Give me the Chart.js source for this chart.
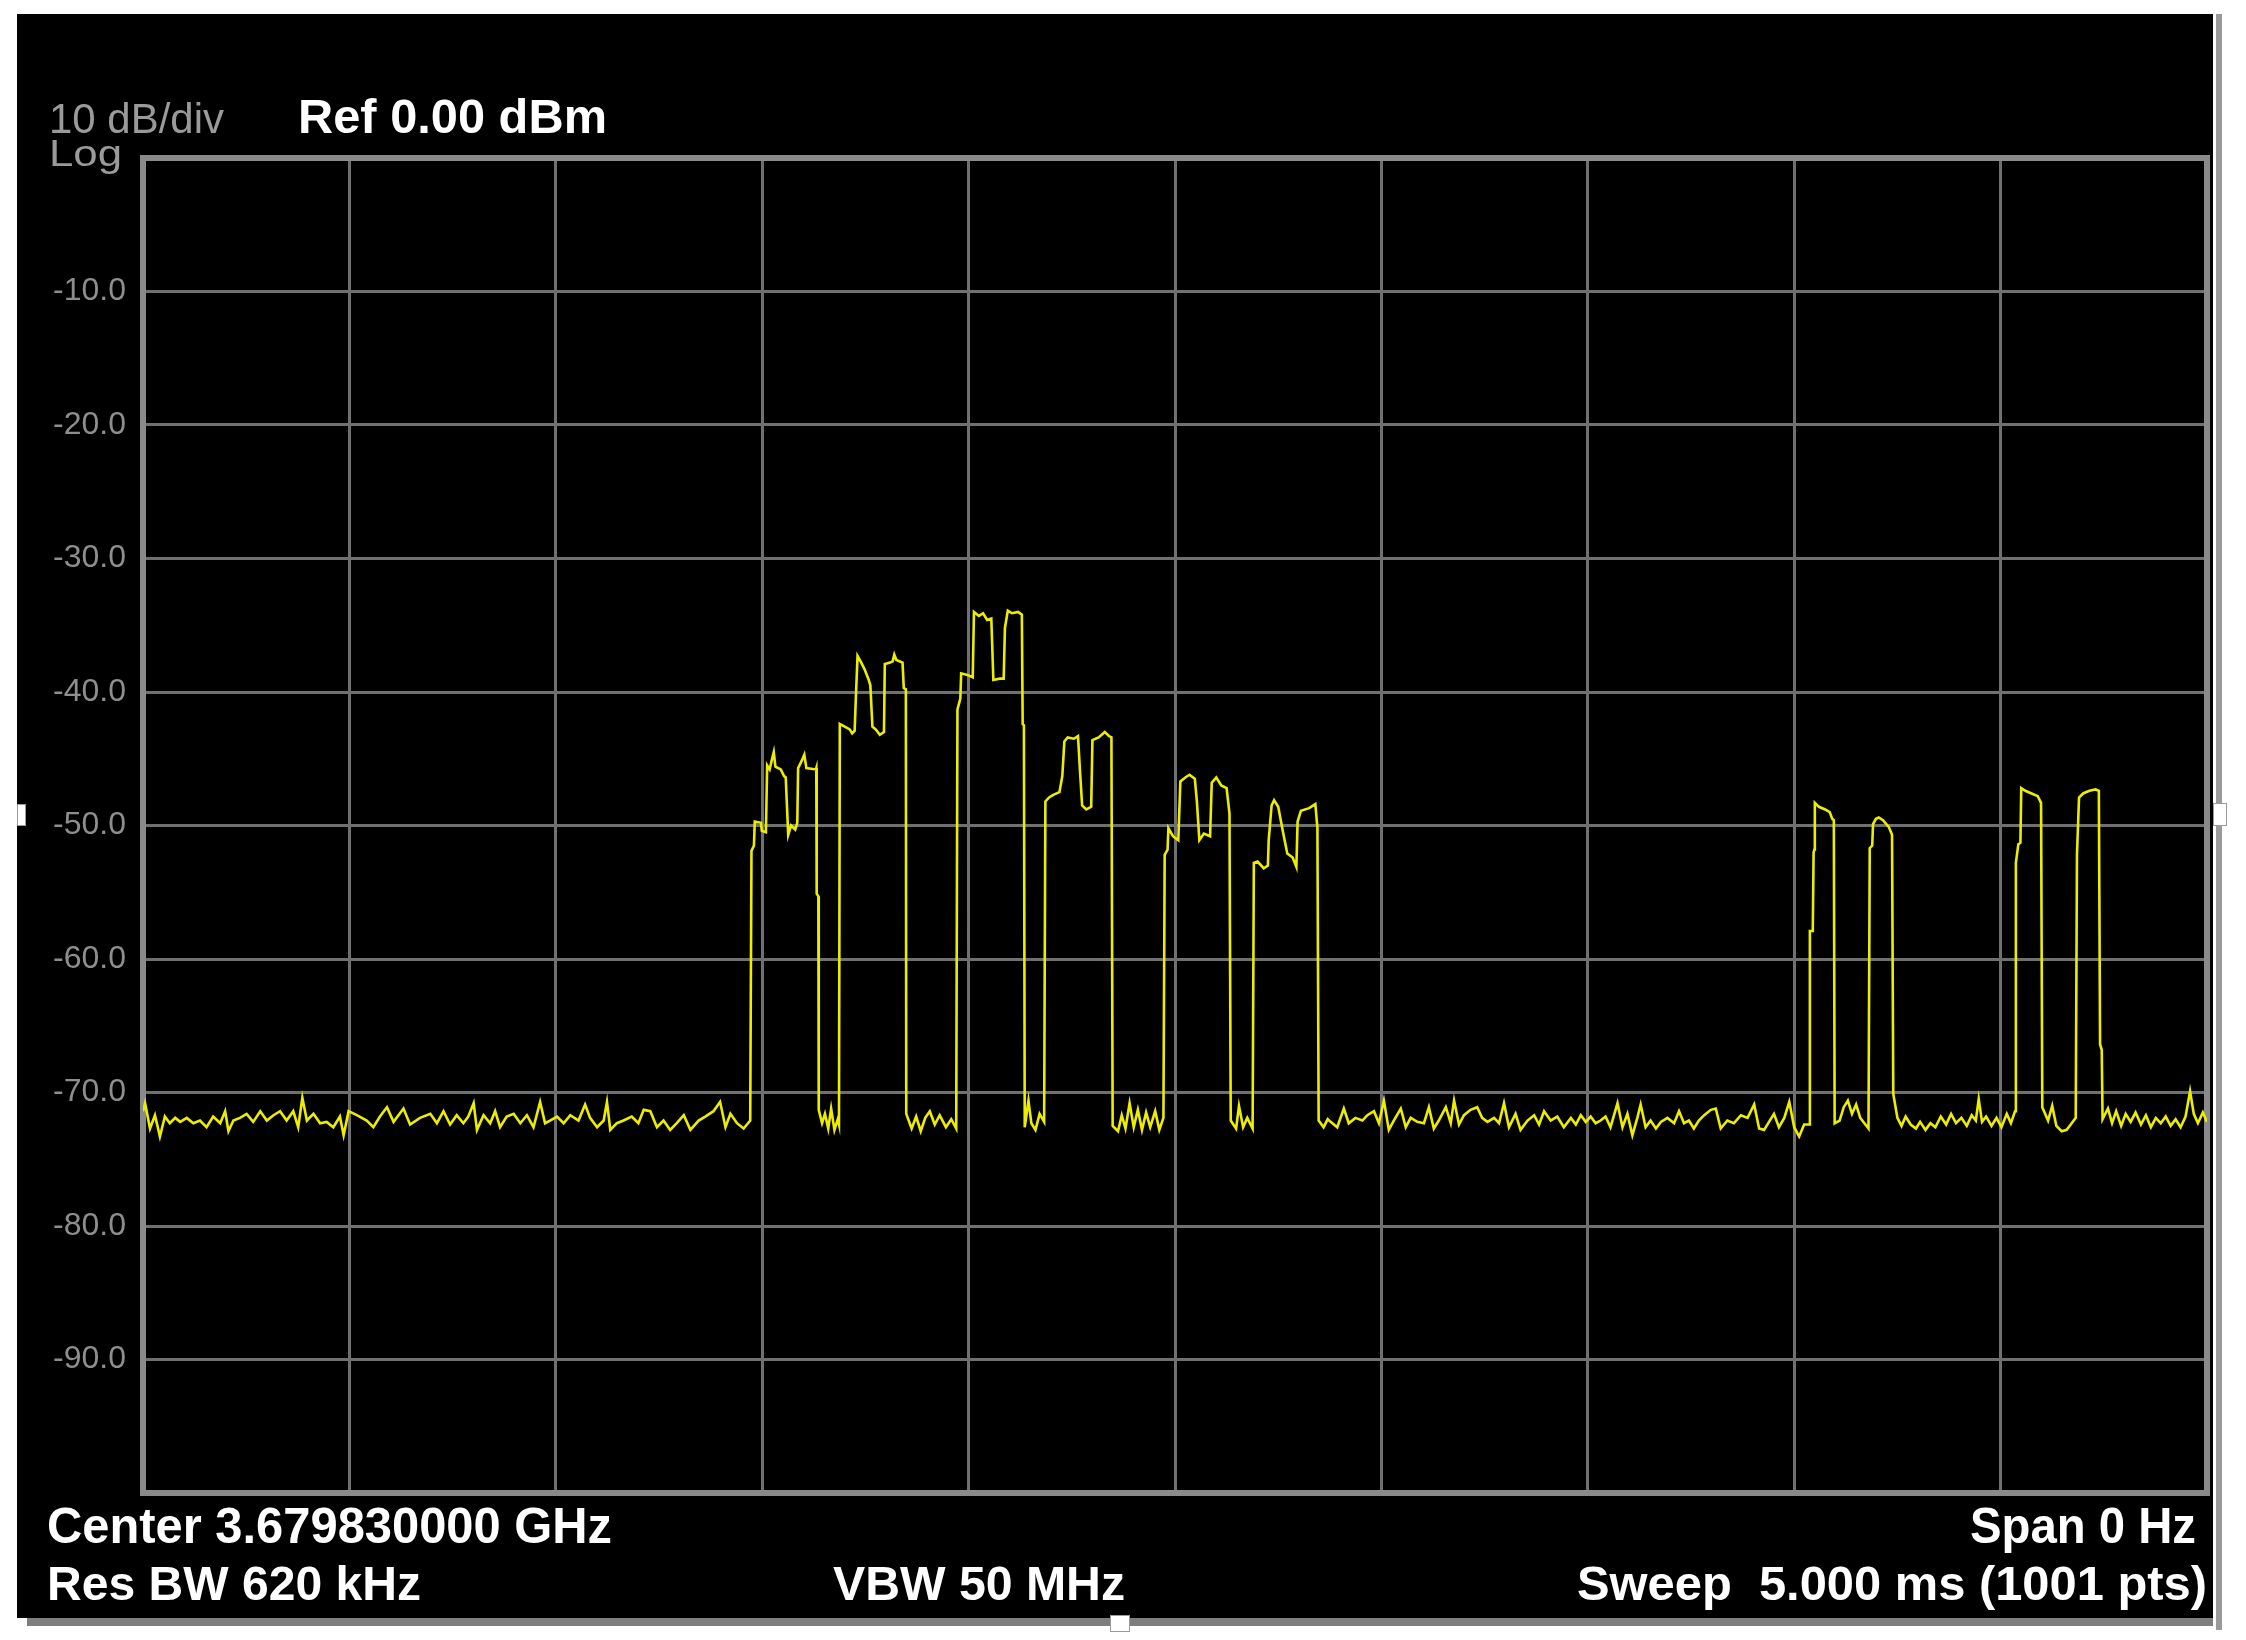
<!DOCTYPE html>
<html>
<head>
<meta charset="utf-8">
<title>Zero span sweep</title>
<script src="https://cdn.jsdelivr.net/npm/chart.js@4.4.1/dist/chart.umd.min.js"></script>
<style>
  html, body { margin: 0; padding: 0; background: #ffffff; }
  canvas { display: block; }
</style>
</head>
<body>
<canvas id="sweepChart" width="2246" height="1640" style="width:2246px;height:1640px"></canvas>
<script>
// Trace: time in ms (0..5 ms sweep), level in dBm
// Noise floor before the first burst
const floorLeftMs = [0.000, 0.005, 0.017, 0.029, 0.041, 0.053, 0.065, 0.078, 0.090, 0.106, 0.122, 0.138, 0.154, 0.170, 0.187, 0.199, 0.207, 0.219, 0.235, 0.251, 0.267, 0.284, 0.300, 0.316, 0.332, 0.348, 0.364, 0.376, 0.386, 0.397, 0.413, 0.429, 0.445, 0.461, 0.477, 0.486, 0.498, 0.518, 0.542, 0.558, 0.574, 0.591, 0.607, 0.631, 0.647, 0.671, 0.696, 0.712, 0.728, 0.744, 0.760, 0.776, 0.788, 0.801, 0.809, 0.825, 0.841, 0.853, 0.865, 0.881, 0.898, 0.914, 0.930, 0.946, 0.962, 0.974, 0.986, 1.003, 1.019, 1.035, 1.055, 1.071, 1.083, 1.100, 1.116, 1.124, 1.132, 1.148, 1.164, 1.184, 1.200, 1.213, 1.229, 1.245, 1.261, 1.277, 1.293, 1.310, 1.326, 1.346, 1.362, 1.382, 1.398, 1.411, 1.423, 1.439, 1.455, 1.471];
const floorLeftDbm = [-71.4, -70.8, -72.7, -71.7, -73.3, -71.8, -72.3, -71.9, -72.2, -71.9, -72.3, -72.1, -72.6, -71.8, -72.3, -71.4, -72.9, -72.1, -71.9, -71.6, -72.2, -71.4, -72.1, -71.7, -71.4, -72.1, -71.4, -72.6, -70.4, -72.1, -71.6, -72.3, -72.2, -72.6, -71.8, -73.2, -71.4, -71.7, -72.1, -72.6, -71.8, -71.1, -72.2, -71.2, -72.4, -71.9, -71.6, -72.3, -71.4, -72.4, -71.7, -72.3, -71.8, -70.8, -72.8, -71.7, -72.3, -71.4, -72.6, -71.8, -71.6, -72.3, -71.7, -72.6, -70.7, -72.3, -72.1, -71.8, -72.3, -71.7, -72.1, -70.9, -71.9, -72.6, -72.1, -70.7, -72.8, -72.3, -72.1, -71.8, -72.3, -71.3, -71.4, -72.6, -72.1, -72.8, -72.3, -71.7, -72.8, -72.1, -71.8, -71.4, -70.7, -72.6, -71.6, -72.3, -72.7, -72.1];

// Six stepped bursts (1.47 .. 2.85 ms) with the floor between them
const burstsMs = [
  1.474, 1.480, 1.482, 1.497, 1.499, 1.509, 1.512, 1.518, 1.524, 1.528, 1.532, 1.545, 1.553, 1.557, 1.563, 1.570, 1.580, 1.585, 1.587, 1.595, 1.602, 1.607, 1.630, 1.631, 1.632, 1.636, 1.637,
  1.645, 1.652, 1.660, 1.667, 1.675, 1.683, 1.686,
  1.688, 1.700, 1.712, 1.718, 1.724, 1.727, 1.731, 1.740, 1.748, 1.757, 1.762, 1.767, 1.775, 1.785, 1.795, 1.797, 1.810, 1.816, 1.820, 1.825, 1.840, 1.843, 1.848, 1.849,
  1.862, 1.873, 1.884, 1.895, 1.906, 1.918, 1.930, 1.945, 1.958, 1.970,
  1.973, 1.980, 1.982, 1.995, 2.010, 2.013, 2.025, 2.035, 2.045, 2.055, 2.060, 2.075, 2.085, 2.088, 2.095, 2.105, 2.120, 2.129, 2.131, 2.134, 2.136,
  2.145, 2.152, 2.162, 2.172, 2.183,
  2.186, 2.195, 2.205, 2.220, 2.227, 2.232, 2.240, 2.255, 2.265, 2.270, 2.275, 2.285, 2.297, 2.300, 2.315, 2.330, 2.340, 2.346, 2.349,
  2.362, 2.371, 2.380, 2.390, 2.400, 2.410, 2.420, 2.430, 2.440, 2.452, 2.462, 2.472,
  2.475, 2.482, 2.484, 2.495, 2.508, 2.513, 2.525, 2.535, 2.548, 2.553, 2.559, 2.570, 2.585, 2.589, 2.600, 2.612, 2.625, 2.632, 2.635,
  2.648, 2.655, 2.665, 2.675, 2.688,
  2.691, 2.700, 2.715, 2.725, 2.727, 2.734, 2.740, 2.750, 2.761, 2.772, 2.785, 2.794, 2.797, 2.805, 2.825, 2.840, 2.845, 2.848,
  2.860, 2.870
];
const burstsDbm = [
  -51.9, -51.5, -49.7, -49.8, -50.4, -50.5, -45.5, -45.8, -45.0, -44.5, -45.6, -45.8, -46.3, -46.4, -50.7, -50.0, -50.3, -49.8, -45.7, -45.2, -44.7, -45.7, -45.8, -45.7, -55.1, -55.3, -71.3,
  -72.3, -71.6, -72.7, -71.2, -72.8, -72.0, -72.4,
  -42.4, -42.6, -42.8, -43.1, -42.9, -40.3, -37.3, -37.8, -38.3, -39.0, -39.5, -42.6, -42.8, -43.2, -43.0, -37.9, -37.8, -37.7, -37.2, -37.6, -37.8, -39.7, -39.8, -71.6,
  -72.7, -71.8, -72.9, -71.9, -71.4, -72.4, -71.7, -72.6, -72.0, -72.7,
  -41.3, -40.5, -38.6, -38.7, -38.9, -34.0, -34.3, -34.1, -34.6, -34.5, -39.1, -39.0, -39.0, -35.2, -33.9, -34.1, -34.0, -34.2, -42.4, -42.5, -72.6,
  -70.6, -72.3, -72.8, -71.6, -72.2,
  -48.2, -47.9, -47.7, -47.5, -46.3, -43.7, -43.4, -43.5, -43.3, -46.0, -48.5, -48.8, -48.6, -43.6, -43.4, -43.0, -43.3, -43.4, -72.5,
  -72.9, -71.7, -72.7, -70.8, -72.6, -71.3, -72.8, -71.5, -72.6, -71.4, -72.8, -71.9,
  -52.2, -51.8, -50.2, -50.8, -51.1, -46.7, -46.4, -46.2, -46.5, -48.2, -51.1, -50.6, -50.8, -46.8, -46.4, -47.0, -47.2, -49.1, -72.1,
  -72.7, -71.0, -72.6, -71.9, -72.7,
  -52.8, -52.7, -53.2, -53.0, -51.1, -48.5, -48.1, -48.6, -50.4, -52.1, -52.4, -53.1, -49.7, -48.9, -48.7, -48.4, -50.2, -72.1,
  -72.6, -72.0
];

// Noise floor between the burst group and the short pulses
const floorMidMs = [2.877, 2.893, 2.909, 2.921, 2.937, 2.954, 2.966, 2.982, 2.994, 3.006, 3.018, 3.030, 3.047, 3.059, 3.071, 3.087, 3.103, 3.115, 3.127, 3.139, 3.156, 3.168, 3.176, 3.188, 3.200, 3.216, 3.232, 3.244, 3.257, 3.273, 3.285, 3.297, 3.309, 3.325, 3.337, 3.354, 3.370, 3.382, 3.394, 3.410, 3.426, 3.442, 3.459, 3.471, 3.483, 3.495, 3.507, 3.519, 3.531, 3.543, 3.555, 3.572, 3.584, 3.596, 3.608, 3.620, 3.628, 3.640, 3.652, 3.665, 3.677, 3.693, 3.709, 3.721, 3.733, 3.745, 3.757, 3.769, 3.782, 3.798, 3.810, 3.822, 3.838, 3.854, 3.871, 3.887, 3.903, 3.915, 3.927, 3.939, 3.951, 3.963, 3.976, 3.988, 4.000, 4.012, 4.024, 4.036];
const floorMidDbm = [-72.2, -72.6, -71.2, -72.3, -71.9, -72.1, -71.7, -71.4, -72.3, -70.6, -72.8, -72.1, -71.2, -72.6, -71.9, -72.2, -72.3, -71.1, -72.7, -72.1, -71.1, -72.3, -70.6, -72.4, -71.7, -71.3, -71.1, -71.9, -72.2, -71.9, -72.3, -70.8, -72.6, -71.6, -72.8, -72.1, -71.7, -72.4, -71.4, -72.1, -71.8, -72.6, -71.9, -72.4, -71.7, -72.2, -71.8, -72.3, -72.1, -71.8, -72.6, -70.8, -72.6, -71.6, -73.2, -71.9, -70.9, -72.6, -72.1, -72.7, -72.2, -71.9, -72.3, -71.4, -72.3, -72.1, -72.7, -72.1, -71.7, -71.3, -71.2, -72.7, -72.1, -72.3, -71.7, -71.9, -70.9, -72.7, -72.8, -72.2, -71.6, -72.6, -71.9, -70.7, -72.6, -73.3, -72.4, -72.4];

// Four short pulses (4.04 .. 4.75 ms) and the floor to the end of the sweep
const pulsesMs = [
  4.038, 4.045, 4.047, 4.049, 4.050, 4.060, 4.075, 4.086, 4.092, 4.096, 4.098,
  4.110, 4.120, 4.130, 4.140, 4.150, 4.160, 4.170, 4.180,
  4.183, 4.189, 4.191, 4.198, 4.205, 4.215, 4.229, 4.237, 4.240,
  4.250, 4.260, 4.270, 4.282, 4.295, 4.305, 4.318, 4.330, 4.342, 4.355, 4.368, 4.380, 4.392, 4.405, 4.418, 4.430, 4.440, 4.447, 4.455, 4.465, 4.478, 4.490, 4.502, 4.515, 4.525, 4.535,
  4.537, 4.543, 4.548, 4.550, 4.560, 4.575, 4.590, 4.598, 4.601,
  4.615, 4.625, 4.635, 4.648, 4.660, 4.670, 4.682,
  4.685, 4.690, 4.700, 4.715, 4.730, 4.738, 4.741, 4.745, 4.747,
  4.760, 4.770, 4.780, 4.792, 4.803, 4.815, 4.827, 4.840, 4.852, 4.864, 4.876, 4.888, 4.900, 4.912, 4.924, 4.936, 4.948, 4.959, 4.968, 4.978, 4.990, 5.000
];
const pulsesDbm = [
  -57.9, -57.9, -52.0, -51.8, -48.3, -48.6, -48.8, -49.0, -49.5, -49.6, -72.3,
  -72.1, -71.1, -70.6, -71.6, -70.9, -71.9, -72.3, -72.7,
  -51.7, -51.5, -49.9, -49.5, -49.4, -49.6, -50.1, -50.7, -70.1,
  -71.9, -72.5, -71.8, -72.4, -72.7, -72.2, -72.8, -72.3, -72.6, -71.8, -72.4, -71.6, -72.3, -71.9, -72.5, -71.7, -72.1, -70.5, -72.2, -71.8, -72.5, -71.9, -72.6, -71.6, -72.3, -71.4,
  -52.8, -51.4, -51.3, -47.2, -47.4, -47.6, -47.8, -48.3, -71.1,
  -72.1, -71.0, -72.5, -72.9, -72.8, -72.4, -71.9,
  -52.2, -47.9, -47.6, -47.4, -47.3, -47.4, -66.4, -66.8, -72.0,
  -71.2, -72.3, -71.4, -72.5, -71.6, -72.2, -71.5, -72.4, -71.7, -72.6, -71.9, -72.3, -71.8, -72.5, -72.0, -72.6, -71.8, -69.9, -71.6, -72.3, -71.5, -72.2
];

// Screen annotations
const scaleText = '10 dB/div';
const modeText = 'Log';
const refText = 'Ref 0.00 dBm';
const centerText = 'Center 3.679830000 GHz';
const resBwText = 'Res BW 620 kHz';
const vbwText = 'VBW 50 MHz';
const spanText = 'Span 0 Hz';
const sweepText = 'Sweep  5.000 ms (1001 pts)';

const FONT = '"Liberation Sans", Arial, sans-serif';
const gridColor = '#707070';

const tracePoints = []
  .concat(floorLeftMs.map((t, i) => ({x: t, y: floorLeftDbm[i]})))
  .concat(burstsMs.map((t, i) => ({x: t, y: burstsDbm[i]})))
  .concat(floorMidMs.map((t, i) => ({x: t, y: floorMidDbm[i]})))
  .concat(pulsesMs.map((t, i) => ({x: t, y: pulsesDbm[i]})));

// draw text squeezed/stretched to the width it has on the screen
function fitText(ctx, text, x, baseline, size, weight, color, width, align) {
  ctx.save();
  ctx.font = `${weight} ${size}px ${FONT}`;
  ctx.fillStyle = color;
  ctx.textBaseline = 'alphabetic';
  ctx.textAlign = 'left';
  const w = ctx.measureText(text).width;
  const left = align === 'right' ? x - width : x;
  ctx.translate(left, baseline);
  ctx.scale(width / w, 1);
  ctx.fillText(text, 0, 0);
  ctx.restore();
}

const screenPlugin = {
  id: 'screen',
  beforeDraw(chart) {
    const ctx = chart.ctx;
    ctx.save();
    ctx.fillStyle = '#ffffff';
    ctx.fillRect(0, 0, chart.width, chart.height);
    ctx.fillStyle = '#000000';
    ctx.fillRect(17, 14, 2196, 1604);
    // window edges
    ctx.fillStyle = '#7e7e7e';
    ctx.fillRect(27, 1618, 2186, 8);
    ctx.fillStyle = '#9a9a9a';
    ctx.fillRect(2216, 14, 6, 1616);
    // little resize handles
    ctx.fillStyle = '#ffffff';
    ctx.strokeStyle = '#9a9a9a';
    ctx.lineWidth = 1;
    [[17, 804, 9, 22], [2213, 803, 14, 23], [1110, 1615, 20, 17]].forEach(r => {
      ctx.fillRect(r[0], r[1], r[2], r[3]);
      ctx.strokeRect(r[0] + 0.5, r[1] + 0.5, r[2] - 1, r[3] - 1);
    });
    ctx.restore();
  },
  beforeDatasetsDraw(chart) {
    const {ctx, chartArea} = chart;
    ctx.save();
    ctx.strokeStyle = '#8a8a8a';
    ctx.lineWidth = 6;
    ctx.strokeRect(chartArea.left, chartArea.top, chartArea.right - chartArea.left, chartArea.bottom - chartArea.top);
    ctx.restore();
  },
  afterDraw(chart) {
    const ctx = chart.ctx;
    fitText(ctx, scaleText, 49, 133, 42, 'normal', '#9a9a9a', 175);
    fitText(ctx, modeText, 49, 166, 36, 'normal', '#9a9a9a', 73);
    fitText(ctx, refText, 298, 133, 48, 'bold', '#ffffff', 309);
    fitText(ctx, centerText, 47, 1543, 50, 'bold', '#ffffff', 565);
    fitText(ctx, resBwText, 47, 1600, 48, 'bold', '#ffffff', 374);
    fitText(ctx, vbwText, 833, 1600, 48, 'bold', '#ffffff', 292);
    fitText(ctx, spanText, 2196, 1543, 50, 'bold', '#ffffff', 226, 'right');
    fitText(ctx, sweepText, 2207, 1600, 48, 'bold', '#ffffff', 630, 'right');
  }
};

const ctx = document.getElementById('sweepChart').getContext('2d');
const sweepChart = new Chart(ctx, {
  type: 'line',
  data: {
    datasets: [{
      data: tracePoints,
      borderColor: '#eded00',
      borderWidth: 2.6,
      pointRadius: 0,
      tension: 0,
      fill: false
    }]
  },
  options: {
    responsive: false,
    devicePixelRatio: 1,
    animation: false,
    layout: {
      padding: { left: 0, top: 158, right: 39, bottom: 147 }
    },
    plugins: {
      legend: { display: false },
      tooltip: { enabled: false }
    },
    scales: {
      x: {
        type: 'linear',
        min: 0,
        max: 5,
        afterFit: s => { s.height = 0; },
        border: { display: false },
        grid: { color: gridColor, lineWidth: 3, drawTicks: false },
        ticks: { display: false, stepSize: 0.5 }
      },
      y: {
        min: -100,
        max: 0,
        afterFit: s => { s.width = 143; },
        border: { display: false },
        grid: { color: gridColor, lineWidth: 3, drawTicks: false },
        ticks: {
          stepSize: 10,
          padding: 17,
          color: '#8e8e8e',
          font: { family: FONT, size: 32 },
          callback: v => (v === 0 || v === -100) ? '' : v.toFixed(1)
        }
      }
    }
  },
  plugins: [screenPlugin]
});
</script>
</body>
</html>
